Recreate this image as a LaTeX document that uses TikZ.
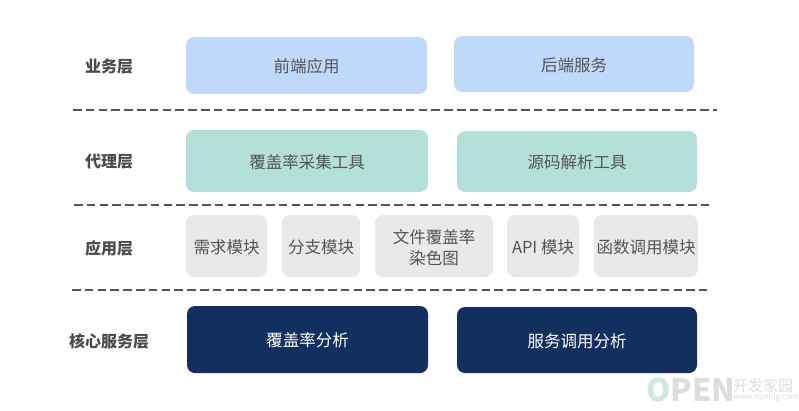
\documentclass[tikz,border=0pt]{standalone}
\usepackage{fontspec}
\setmainfont{Noto Sans CJK SC}
\usetikzlibrary{positioning}
\definecolor{bizblue}{HTML}{BFD9FA}
\definecolor{agentgreen}{HTML}{B3E0D9}
\definecolor{appgray}{HTML}{E8E9EB}
\definecolor{corenavy}{HTML}{12305F}
\definecolor{textgray}{HTML}{555555}
\definecolor{markgreen}{HTML}{CDE9E0}
\definecolor{markgray}{HTML}{DDDDDD}
\tikzset{
    layerlabel/.style={font=\fontsize{16}{19}\selectfont\bfseries,text=textgray!90!black},
    layerbox/.style={rounded corners=8pt,text=textgray,align=center,inner sep=0pt,
        font=\fontsize{16.5}{21}\selectfont},
    bizbox/.style={layerbox,fill=bizblue,text height=16pt},
    agentbox/.style={layerbox,fill=agentgreen,text height=16pt},
    appbox/.style={layerbox,fill=appgray,minimum height=62pt},
    corebox/.style={layerbox,fill=corenavy,text=white,text height=16pt},
    divider/.style={textgray,line width=1.5pt,dash pattern=on 8.5pt off 4.3pt},
}
\begin{document}
\begin{tikzpicture}[x=1pt,y=-1pt]
    \useasboundingbox (0,0) rectangle (799,410);

    %%% Labels
    \node[layerlabel] (bizlabel) at (109,67) {业务层};
    \node[layerlabel] (agentlabel) at (109,162) {代理层};
    \node[layerlabel] (applabel) at (109,248) {应用层};
    \node[layerlabel] (corelabel) at (109,341) {核心服务层};

    %%% Business layer
    \node[bizbox,minimum width=241pt,minimum height=57pt] (front) at (306.5,65.5) {前端应用};
    \node[bizbox,minimum width=240pt,minimum height=56pt] (back) at (574,64) {后端服务};

    %%% Agent layer
    \node[agentbox,minimum width=242pt,minimum height=62pt] (collect) at (307,161) {覆盖率采集工具};
    \node[agentbox,minimum width=240pt,minimum height=61pt] (parse) at (577,161.5) {源码解析工具};

    %%% Application layer
    \node[appbox,minimum width=81pt,text height=16pt] (req) at (226.5,246) {需求模块};
    \node[appbox,minimum width=78pt,text height=16pt] (branch) at (321,246) {分支模块};
    \node[appbox,minimum width=118pt] (color) at (434,246) {\rule{0pt}{17pt}文件覆盖率\\染色图};
    \node[appbox,minimum width=72pt,text height=16pt] (api) at (543,246) {API 模块};
    \node[appbox,minimum width=104pt,text height=16pt] (call) at (646,246) {函数调用模块};

    %%% Core layer
    \node[corebox,minimum width=241pt,minimum height=67pt] (cover) at (307.5,339.5) {覆盖率分析};
    \node[corebox,minimum width=240pt,minimum height=66pt] (service) at (577,340) {服务调用分析};

    %%% Dividers
    \coordinate (d1l) at (73,110);
    \coordinate (d1r) at (717,110);
    \coordinate (d2l) at (74,205);
    \coordinate (d2r) at (709,205);
    \coordinate (d3l) at (72,290);
    \coordinate (d3r) at (707,290);
    \draw[divider] (d1l) -- (d1r);
    \draw[divider] (d2l) -- (d2r);
    \draw[divider] (d3l) -- (d3r);

    %%% Watermark
    \node[font=\fontsize{31}{32}\selectfont\bfseries,text=markgreen,inner sep=0pt,anchor=west] (markopen) at (646,390) {O};
    \node[font=\fontsize{31}{32}\selectfont\bfseries,text=markgray,inner sep=0pt,right=0pt of markopen] (markpen) {PEN};
    \node[font=\fontsize{15}{15}\selectfont,text=markgray,inner sep=0pt,anchor=west] (markcn) at (733,386) {开发家园};
    \node[font=\fontsize{8}{8}\selectfont,text=markgray,inner sep=0pt,anchor=west] (markurl) at (733,397.5) {www.openjg.com};
\end{tikzpicture}
\end{document}
